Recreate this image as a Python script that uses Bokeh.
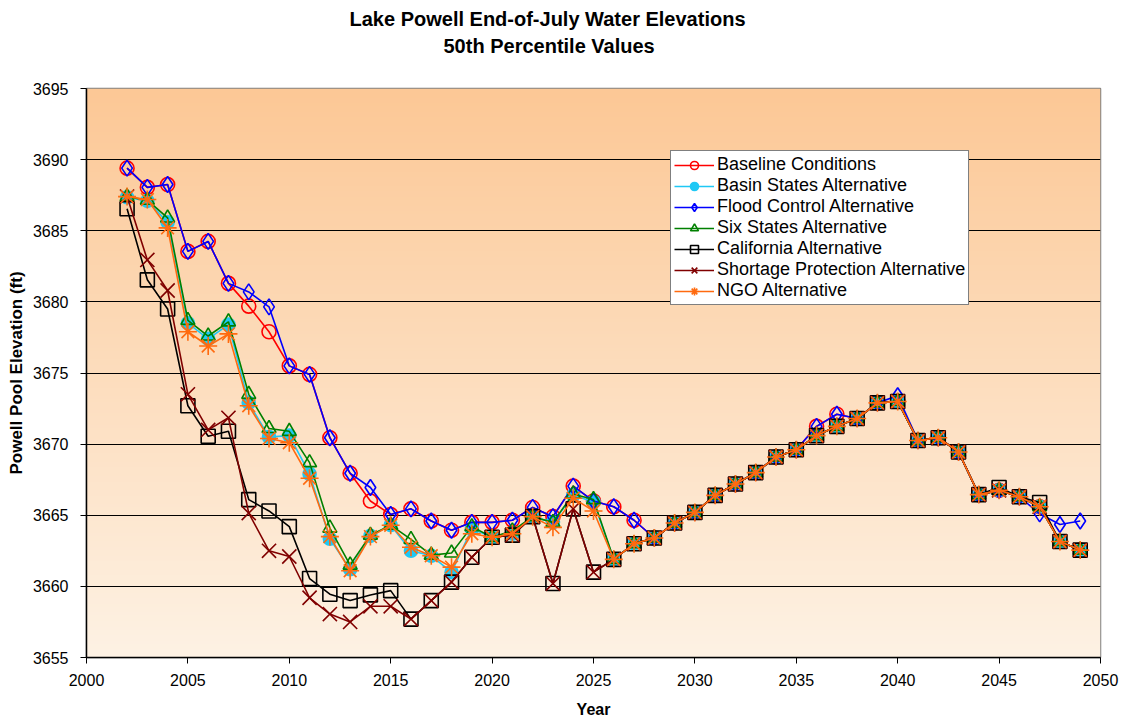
import numpy as np
from bokeh.plotting import figure
from bokeh.models import Range1d, FixedTicker, Title, Legend, LegendItem
from bokeh.embed import file_html
from bokeh.resources import INLINE

# ---------------- data ----------------
years = list(range(2002, 2050))

baseline = [3689.4, 3688.05, 3688.25, 3683.55, 3684.25, 3681.3, 3679.7, 3677.9, 3675.5, 3674.9,
            3670.45, 3667.95, 3666.0, 3665.05, 3665.45, 3664.6, 3663.95, 3664.5, 3664.5, 3664.65,
            3665.55, 3664.9, 3667.05, 3666.0, 3665.6, 3664.65, 3663.4, 3664.45, 3665.2, 3666.4,
            3667.2, 3668.0, 3669.1, 3669.6, 3671.25, 3672.1, 3671.8, 3672.9, 3673.0, 3670.25,
            3670.45, 3669.45, 3666.45, 3666.75, 3666.3, 3665.6, 3663.15, 3662.55]

basin = [3687.35, 3687.1, 3685.6, 3678.5, 3677.4, 3678.4, 3672.9, 3670.5, 3670.6, 3667.9,
         3663.35, 3661.2, 3663.55, 3664.3, 3662.5, 3662.15, 3661.0, 3664.05, 3663.45, 3663.7,
         3664.9, 3664.5, 3666.4, 3665.95, 3661.9, 3663.0, 3663.4, 3664.45, 3665.2, 3666.4,
         3667.2, 3668.0, 3669.1, 3669.6, 3670.6, 3671.25, 3671.8, 3672.9, 3673.0, 3670.25,
         3670.45, 3669.45, 3666.45, 3666.75, 3666.3, 3665.6, 3663.15, 3662.55]

flood = [3689.4, 3688.05, 3688.25, 3683.55, 3684.25, 3681.3, 3680.7, 3679.65, 3675.5, 3674.9,
         3670.45, 3667.95, 3666.95, 3665.05, 3665.45, 3664.6, 3663.95, 3664.5, 3664.5, 3664.65,
         3665.55, 3664.9, 3667.05, 3666.0, 3665.6, 3664.65, 3663.4, 3664.45, 3665.2, 3666.4,
         3667.2, 3668.0, 3669.1, 3669.6, 3671.25, 3672.1, 3671.8, 3672.9, 3673.4, 3670.25,
         3670.45, 3669.45, 3666.45, 3666.75, 3666.3, 3665.1, 3664.35, 3664.6]

six = [3687.4, 3687.15, 3685.9, 3678.7, 3677.6, 3678.6, 3673.5, 3671.1, 3670.9, 3668.7,
       3664.1, 3661.5, 3663.6, 3664.3, 3663.3, 3662.2, 3662.35, 3664.2, 3663.45, 3663.9,
       3664.9, 3664.5, 3666.5, 3666.1, 3661.9, 3663.0, 3663.4, 3664.45, 3665.2, 3666.4,
       3667.2, 3668.0, 3669.1, 3669.6, 3670.6, 3671.25, 3671.8, 3672.9, 3673.0, 3670.25,
       3670.45, 3669.45, 3666.45, 3666.75, 3666.3, 3665.6, 3663.15, 3662.55]

california = [3686.55, 3681.55, 3679.5, 3672.7, 3670.55, 3670.9, 3666.1, 3665.3, 3664.2, 3660.55,
              3659.45, 3659.0, 3659.4, 3659.7, 3657.7, 3659.0, 3660.3, 3662.05, 3663.45, 3663.6,
              3664.9, 3660.2, 3665.45, 3661.0, 3661.9, 3663.0, 3663.4, 3664.45, 3665.2, 3666.4,
              3667.2, 3668.0, 3669.1, 3669.6, 3670.6, 3671.25, 3671.8, 3672.9, 3673.0, 3670.25,
              3670.45, 3669.45, 3666.45, 3666.95, 3666.3, 3665.9, 3663.15, 3662.55]

shortage = [3687.4, 3682.95, 3680.8, 3673.5, 3671.0, 3671.85, 3665.15, 3662.5, 3662.1, 3659.2,
            3658.05, 3657.5, 3658.6, 3658.6, 3657.7, 3659.0, 3660.3, 3662.05, 3663.45, 3663.6,
            3664.9, 3660.2, 3665.45, 3661.0, 3661.9, 3663.0, 3663.4, 3664.45, 3665.2, 3666.4,
            3667.2, 3668.0, 3669.1, 3669.6, 3670.6, 3671.25, 3671.8, 3672.9, 3673.0, 3670.25,
            3670.45, 3669.45, 3666.45, 3666.75, 3666.3, 3665.6, 3663.15, 3662.55]

ngo = [3687.4, 3687.2, 3685.2, 3677.9, 3676.9, 3677.75, 3672.7, 3670.4, 3670.1, 3667.6,
       3663.5, 3661.1, 3663.5, 3664.3, 3662.75, 3662.15, 3661.35, 3663.7, 3663.45, 3663.7,
       3664.9, 3664.15, 3666.2, 3665.3, 3661.9, 3663.0, 3663.4, 3664.45, 3665.2, 3666.4,
       3667.2, 3668.0, 3669.1, 3669.6, 3670.6, 3671.25, 3671.8, 3672.9, 3673.0, 3670.25,
       3670.45, 3669.45, 3666.45, 3666.75, 3666.3, 3665.6, 3663.15, 3662.55]

series_names = ["Baseline Conditions", "Basin States Alternative", "Flood Control Alternative",
                "Six States Alternative", "California Alternative",
                "Shortage Protection Alternative", "NGO Alternative"]
series_values = [baseline, basin, flood, six, california, shortage, ngo]

title_lines = ["Lake Powell End-of-July Water Elevations", "50th Percentile Values"]

x_ticks = list(range(2000, 2051, 5))
y_ticks = list(range(3655, 3696, 5))

# ---------------- styling ----------------
FONT = "Liberation Sans"
styles = [
    dict(color="#FF0000", marker="circle", size=14, fill=None),
    dict(color="#1FC8F5", marker="circle", size=13, fill="#1FC8F5"),
    dict(color="#0000FF", marker="diamond", size=16, fill=None),
    dict(color="#008000", marker="triangle", size=14, fill=None),
    dict(color="#000000", marker="square", size=14, fill=None),
    dict(color="#800000", marker="x", size=20, fill=None),
    dict(color="#FF6A0F", marker="asterisk", size=18, fill=None),
]

x0, x1 = x_ticks[0], x_ticks[-1]
y0, y1 = y_ticks[0], y_ticks[-1]

p = figure(frame_width=1014, frame_height=569,
           x_range=Range1d(x0, x1), y_range=Range1d(y0, y1),
           output_backend="svg", toolbar_location=None,
           min_border_left=86, min_border_right=20, min_border_top=88, min_border_bottom=60,
           background_fill_color="white", border_fill_color="white")

# gradient background
N = 200
img = np.empty((N, 1), dtype=np.uint32)
view = img.view(dtype=np.uint8).reshape((N, 1, 4))
top_c = np.array([252, 200, 150])
bot_c = np.array([254, 242, 228])
for i in range(N):
    t = i / (N - 1)
    c = bot_c + (top_c - bot_c) * t
    view[i, 0, 0:3] = c.astype(np.uint8)
    view[i, 0, 3] = 255
bg = p.image_rgba(image=[img], x=x0, y=y0, dw=x1 - x0, dh=y1 - y0)
bg.level = "image"

# grid / axes
p.xgrid.grid_line_color = None
p.ygrid.grid_line_color = "black"
p.ygrid.grid_line_width = 1
p.ygrid.ticker = FixedTicker(ticks=y_ticks)
p.outline_line_color = "#808080"
p.outline_line_width = 1.5

p.xaxis.ticker = FixedTicker(ticks=x_ticks)
p.yaxis.ticker = FixedTicker(ticks=y_ticks)
for ax in (p.xaxis[0], p.yaxis[0]):
    ax.major_tick_in = 0
    ax.major_tick_out = 6
    ax.minor_tick_in = 0
    ax.minor_tick_out = 0
    ax.axis_line_color = "black"
    ax.axis_line_width = 1.5
    ax.major_tick_line_color = "black"
    ax.major_label_text_font = FONT
    ax.major_label_text_font_size = "16px"
    ax.major_label_text_color = "black"
    ax.axis_label_text_font = FONT
    ax.axis_label_text_font_style = "bold"
    ax.axis_label_text_color = "black"
p.xaxis.axis_label = "Year"
p.yaxis.axis_label = "Powell Pool Elevation (ft)"
p.xaxis.axis_label_text_font_size = "16px"
p.yaxis.axis_label_text_font_size = "17px"
p.xaxis.major_label_standoff = 10
p.yaxis.major_label_standoff = 12
p.xaxis.axis_label_standoff = 12
p.yaxis.axis_label_standoff = 4

# titles (two stacked lines)
t2 = Title(text=title_lines[1], align="left", offset=357, text_font=FONT,
           text_font_size="20px", text_font_style="bold", text_color="black", standoff=63)
t1 = Title(text=title_lines[0], align="left", offset=263,
           text_font=FONT, text_font_size="20px", text_font_style="bold", text_color="black",
           standoff=-57)
p.add_layout(t2, "above")
p.add_layout(t1, "above")

# series
items = []
for name, vals, st in zip(series_names, series_values, styles):
    ln = p.line(years, vals, line_color=st["color"], line_width=1.6)
    sc = p.scatter(years, vals, marker=st["marker"], size=st["size"],
                   line_color=st["color"], line_width=1.6,
                   fill_color=st["fill"], fill_alpha=1.0 if st["fill"] else 0.0)
    items.append(LegendItem(label=name, renderers=[ln, sc]))

legend = Legend(items=items, location=(584, 352), orientation="vertical",
                label_text_font=FONT, label_text_font_size="18px", label_text_color="black",
                label_height=20, glyph_height=20, glyph_width=40, label_standoff=3,
                spacing=0, padding=3, margin=0,
                border_line_color="black", border_line_width=1.2,
                background_fill_color="white", background_fill_alpha=1.0)
p.add_layout(legend, "center")

open("out.html", "w").write(file_html(p, INLINE))
